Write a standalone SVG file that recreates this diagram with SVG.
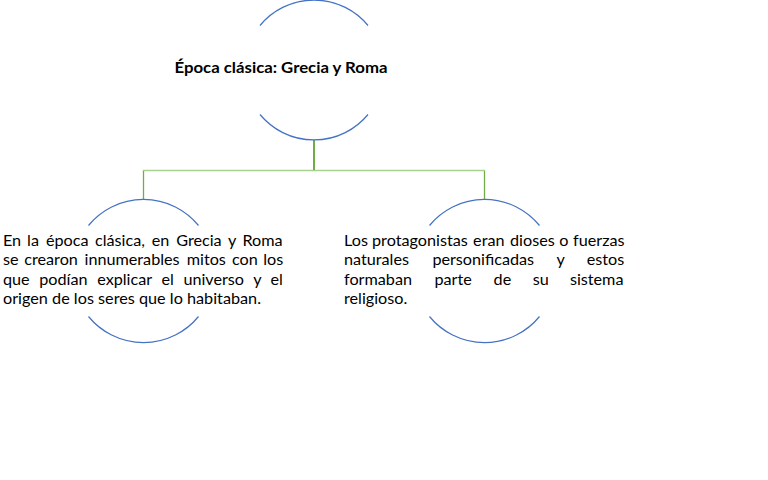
<svg xmlns="http://www.w3.org/2000/svg" width="768" height="480" viewBox="0 0 768 480">
<style>
.arc{fill:none;stroke:#4472C4;stroke-width:1.2}
.t{font-family:Lato,"Liberation Sans",sans-serif;font-size:16.2px;fill:#000}
.title{font-family:Lato,"Liberation Sans",sans-serif;font-size:15.5px;font-weight:bold;fill:#000}
</style>
<rect width="768" height="480" fill="#fff"/>
<g id="connectors">
<path d="M143.5 200 V170.5 H484.5 V200" fill="none" stroke="#A9D18E" stroke-width="1.5"/>
<path d="M143.5 200 V171" fill="none" stroke="#70AD47" stroke-width="1"/>
<path d="M484.5 200 V171" fill="none" stroke="#70AD47" stroke-width="1"/>
<path d="M314 140 V170" fill="none" stroke="#70AD47" stroke-width="2"/>
</g>
<g id="node-top">
<path class="arc" d="M260 25.5 A70 70 0 0 1 368 25.5"/>
<path class="arc" d="M260 114.5 A70 70 0 0 0 368 114.5"/>
<text class="title" x="174.5" y="73" textLength="213" lengthAdjust="spacingAndGlyphs">Época clásica: Grecia y Roma</text>
</g>
<g id="node-left">
<path class="arc" d="M88.5 225.5 A71 71 0 0 1 198.5 225.5"/>
<path class="arc" d="M88.5 316.5 A71 71 0 0 0 198.5 316.5"/>
<text class="t" y="246"><tspan x="3">En</tspan><tspan x="27.1">la</tspan><tspan x="45.9">época</tspan><tspan x="95">clásica,</tspan><tspan x="151.8">en</tspan><tspan x="176.2">Grecia</tspan><tspan x="227.9">y</tspan><tspan x="242.4">Roma</tspan></text>
<text class="t" y="265"><tspan x="3">se</tspan><tspan x="24.2">crearon</tspan><tspan x="84.5">innumerables</tspan><tspan x="186.7">mitos</tspan><tspan x="232">con</tspan><tspan x="263.3">los</tspan></text>
<text class="t" y="284.5"><tspan x="3">que</tspan><tspan x="39.2">podían</tspan><tspan x="97.2">explicar</tspan><tspan x="161.4">el</tspan><tspan x="183.4">universo</tspan><tspan x="253.3">y</tspan><tspan x="270.5">el</tspan></text>
<text class="t" x="3" y="303.5" textLength="258" lengthAdjust="spacingAndGlyphs">origen de los seres que lo habitaban.</text>
</g>
<g id="node-right">
<path class="arc" d="M429.5 225.5 A71 71 0 0 1 539.5 225.5"/>
<path class="arc" d="M429.5 316.5 A71 71 0 0 0 539.5 316.5"/>
<text class="t" y="246"><tspan x="344">Los</tspan><tspan x="372">protagonistas</tspan><tspan x="473.1">eran</tspan><tspan x="510">dioses</tspan><tspan x="559.2">o</tspan><tspan x="573.1">fuerzas</tspan></text>
<text class="t" y="265"><tspan x="344">naturales</tspan><tspan x="432.4">personificadas</tspan><tspan x="556.5">y</tspan><tspan x="586.8">estos</tspan></text>
<text class="t" y="284.5"><tspan x="344">formaban</tspan><tspan x="434.4">parte</tspan><tspan x="493.6">de</tspan><tspan x="532.7">su</tspan><tspan x="569.9">sistema</tspan></text>
<text class="t" x="344" y="303.5">religioso.</text>
</g>
</svg>
